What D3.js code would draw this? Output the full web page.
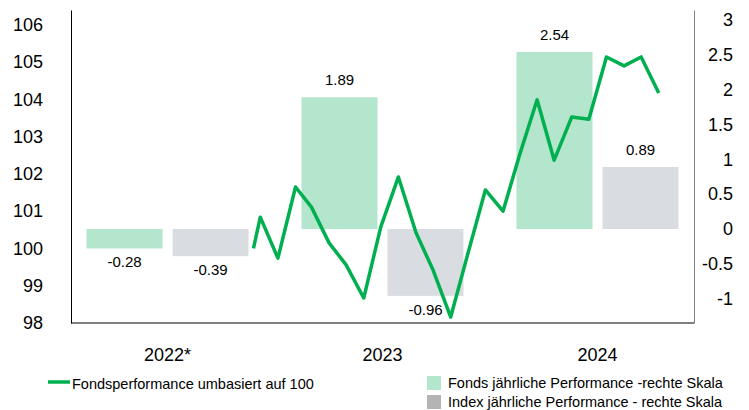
<!DOCTYPE html>
<html>
<head>
<meta charset="utf-8">
<script src="https://cdn.jsdelivr.net/npm/d3@7"></script>
<style>
  body { margin: 0; background: #fff; }
  text { font-family: "Liberation Sans", Arial, sans-serif; fill: #000; }
</style>
</head>
<body>
<div id="chart"></div>
<script>
// yearly bars (right scale, %)
const years = ["2022*", "2023", "2024"];
const fondsPerf = [-0.28, 1.89, 2.54];
const indexPerf = [-0.39, -0.96, 0.89];

// monthly fund line (left scale, rebased to 100)
const lineDates = [
  "2022-11-18", "2022-11-30", "2022-12-31",
  "2023-01-31", "2023-02-28", "2023-03-31", "2023-04-30", "2023-05-31", "2023-06-30",
  "2023-07-31", "2023-08-31", "2023-09-30", "2023-10-31", "2023-11-30", "2023-12-31",
  "2024-01-31", "2024-02-29", "2024-03-31", "2024-04-30", "2024-05-31", "2024-06-30",
  "2024-07-31", "2024-08-31", "2024-09-30", "2024-10-31"
];
const lineValues = [
  100.0, 100.84, 99.74,
  101.65, 101.11, 100.15, 99.56, 98.67, 100.58,
  101.92, 100.42, 99.42, 98.16, 99.85, 101.57,
  101.0, 102.5, 103.99, 102.37, 103.53, 103.47,
  105.14, 104.9, 105.14, 104.17
];

const leftTicks = [98, 99, 100, 101, 102, 103, 104, 105, 106];
const rightTicks = [-1, -0.5, 0, 0.5, 1, 1.5, 2, 2.5, 3];
const legendLine = "Fondsperformance umbasiert auf 100";
const legendFonds = "Fonds jährliche Performance -rechte Skala";
const legendIndex = "Index jährliche Performance - rechte Skala";

const width = 749;
const height = 410;
const margin = { left: 71, right: 55, top: 10, bottom: 87 };
const green = "#00b050";
const fondsColor = "#b3e6cc";
const indexColor = "#d9dde1";

const svg = d3.select("#chart")
  .append("svg")
  .attr("width", width)
  .attr("height", height);

const parse = d3.utcParse("%Y-%m-%d");
const lineData = lineDates.map((d, i) => ({ date: parse(d), value: lineValues[i] }));

const xTime = d3.scaleUtc()
  .domain([parse("2022-01-01"), parse("2025-01-01")])
  .range([margin.left, width - margin.right]);

const xYear = d3.scaleBand()
  .domain(years)
  .range([60, 705])
  .paddingInner(0.2465)
  .paddingOuter(0.1233);

const xSub = d3.scaleBand()
  .domain(["fonds", "index"])
  .range([0, xYear.bandwidth()])
  .paddingInner(0.116);

const yLeft = d3.scaleLinear()
  .domain([98, 106.4])
  .range([height - margin.bottom, margin.top]);

const yRight = d3.scaleLinear()
  .domain([-1.349, 3.142])
  .range([height - margin.bottom, margin.top]);

// bars
const barData = [];
years.forEach((y, i) => {
  barData.push({ year: y, key: "fonds", value: fondsPerf[i] });
  barData.push({ year: y, key: "index", value: indexPerf[i] });
});

svg.append("g")
  .selectAll("rect")
  .data(barData)
  .enter()
  .append("rect")
  .attr("x", d => xYear(d.year) + xSub(d.key))
  .attr("width", xSub.bandwidth())
  .attr("y", d => yRight(Math.max(0, d.value)))
  .attr("height", d => Math.abs(yRight(d.value) - yRight(0)))
  .attr("fill", d => d.key === "fonds" ? fondsColor : indexColor);

svg.append("g")
  .selectAll("text")
  .data(barData)
  .enter()
  .append("text")
  .attr("x", d => xYear(d.year) + xSub(d.key) + xSub.bandwidth() / 2)
  .attr("y", d => d.value >= 0 ? yRight(d.value) - 12 : yRight(d.value) + 19)
  .attr("text-anchor", "middle")
  .style("font-size", "15px")
  .text(d => d.value.toFixed(2));

// axes
const leftAxis = svg.append("g")
  .attr("transform", "translate(" + margin.left + ",0)")
  .call(d3.axisLeft(yLeft).tickValues(leftTicks).tickSize(0).tickPadding(28).tickSizeOuter(0));
leftAxis.select(".domain").attr("stroke", "#000");
leftAxis.selectAll("text").style("font-size", "18px");

const rightAxis = svg.append("g")
  .attr("transform", "translate(" + (width - margin.right) + ",0)")
  .call(d3.axisRight(yRight).tickValues(rightTicks).tickSize(0).tickSizeOuter(0)
    .tickFormat(d => d));
rightAxis.select(".domain").attr("stroke", "#7f7f7f");
rightAxis.selectAll("text")
  .attr("x", 39)
  .attr("text-anchor", "end")
  .style("font-size", "18px");

svg.append("line")
  .attr("x1", margin.left)
  .attr("x2", width - margin.right)
  .attr("y1", height - margin.bottom)
  .attr("y2", height - margin.bottom)
  .attr("stroke", "#000");

svg.append("g")
  .selectAll("text")
  .data(years)
  .enter()
  .append("text")
  .attr("x", d => xYear(d) + xYear.bandwidth() / 2)
  .attr("y", 361)
  .attr("text-anchor", "middle")
  .style("font-size", "18px")
  .text(d => d);

// fund line
const line = d3.line()
  .x(d => xTime(d.date))
  .y(d => yLeft(d.value));

svg.append("path")
  .datum(lineData)
  .attr("fill", "none")
  .attr("stroke", green)
  .attr("stroke-width", 3.5)
  .attr("stroke-linejoin", "round")
  .attr("d", line);

// legend
const legend = svg.append("g");
legend.append("line")
  .attr("x1", 48).attr("x2", 70)
  .attr("y1", 382).attr("y2", 382)
  .attr("stroke", green)
  .attr("stroke-width", 3.5);
legend.append("text")
  .attr("x", 72).attr("y", 389)
  .style("font-size", "14.5px")
  .text(legendLine);

legend.append("rect")
  .attr("x", 427).attr("y", 376)
  .attr("width", 14).attr("height", 14)
  .attr("fill", fondsColor);
legend.append("text")
  .attr("x", 448).attr("y", 388)
  .style("font-size", "14.5px")
  .text(legendFonds);

legend.append("rect")
  .attr("x", 427).attr("y", 395)
  .attr("width", 14).attr("height", 14)
  .attr("fill", "#b4b4b4");
legend.append("text")
  .attr("x", 448).attr("y", 407)
  .style("font-size", "14.5px")
  .text(legendIndex);
</script>
</body>
</html>
